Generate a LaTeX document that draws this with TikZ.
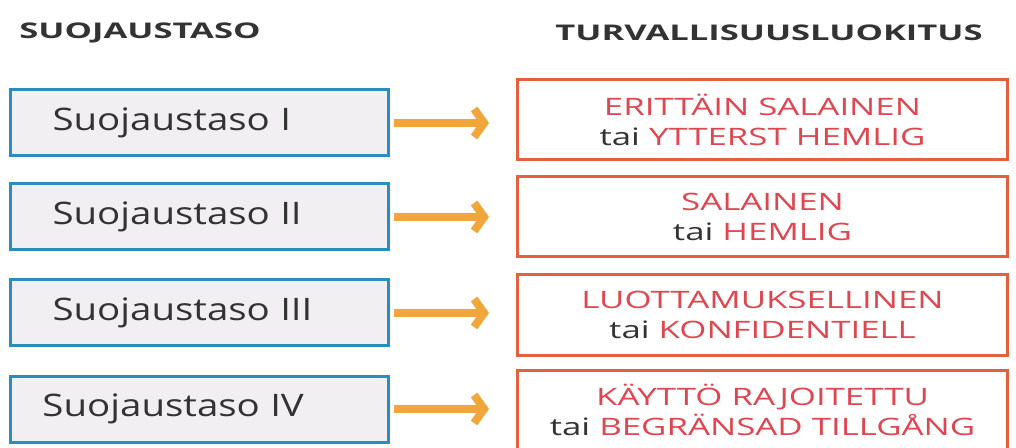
\documentclass[tikz,border=0pt]{standalone}
\usepackage{fontspec}
\setmainfont{Open Sans}
\newfontfamily\otsikkofont[FakeStretch=1.6]{Open Sans}
\newfontfamily\tasofont[FakeStretch=1.24]{Open Sans}
\newfontfamily\luokkafont[FakeStretch=1.45]{Open Sans}
\usepackage{xcolor}
\usepackage{tikz}
\usetikzlibrary{arrows.meta,positioning}

\definecolor{tasoblue}{HTML}{2B8DBF}
\definecolor{tasofill}{HTML}{F1EFF2}
\definecolor{luokkared}{HTML}{E5603F}
\definecolor{luokkatext}{HTML}{DE4650}
\definecolor{tumma}{HTML}{333333}
\definecolor{nuoli}{HTML}{F0A63A}

\tikzset{
  otsikko/.style={font=\otsikkofont\fontsize{10.8}{12}\selectfont\bfseries, text=tumma},
  tasobox/.style={draw=tasoblue, fill=tasofill, line width=1.5pt,
                  text width=189pt, minimum height=33pt, inner xsep=0pt,
                  inner ysep=0pt, align=left,
                  font=\tasofont\fontsize{15.5}{18}\selectfont, text=tumma},
  luokkabox/.style={draw=luokkared, fill=white, line width=1.5pt,
                    minimum width=245pt, minimum height=40pt, inner sep=0pt,
                    align=center, font=\luokkafont\fontsize{12}{15}\selectfont,
                    text=luokkatext},
  nuolet/.style={draw=nuoli, line width=4pt,
                 -{Straight Barb[length=5pt,width=14pt]},
                 shorten <=2pt, shorten >=13.5pt}
}
\newcommand{\tai}{\textcolor{tumma}{tai}}

\begin{document}
\begin{tikzpicture}[x=0.5pt, y=-0.5pt]
\useasboundingbox (0,0) rectangle (1016,448);

\node[otsikko] (otsL) at (140,33) {SUOJAUSTASO};
\node[otsikko] (otsR) at (769,33) {TURVALLISUUSLUOKITUS};

% suojaustasot
\node[tasobox] (t1) at (199.5,123) {\hspace*{21pt}Suojaustaso I};
\node[tasobox] (t2) at (199.5,217) {\hspace*{21pt}Suojaustaso II};
\node[tasobox] (t3) at (199.5,313) {\hspace*{21pt}Suojaustaso III};
\node[tasobox] (t4) at (199.5,409) {\hspace*{16pt}Suojaustaso IV};

% turvallisuusluokat
\node[luokkabox] (l1) at (762.5,120) {ERITTÄIN SALAINEN\\\tai{} YTTERST HEMLIG};
\node[luokkabox] (l2) at (762.5,217) {SALAINEN\\\tai{} HEMLIG};
\node[luokkabox] (l3) at (762.5,315) {LUOTTAMUKSELLINEN\\\tai{} KONFIDENTIELL};
\node[luokkabox] (l4) at (762.5,410) {KÄYTTÖ RAJOITETTU\\\tai{} BEGRÄNSAD TILLGÅNG};

\foreach \i in {1,...,4}
  \draw[nuolet] (t\i.east) -- (t\i.east -| l\i.west);
\end{tikzpicture}
\end{document}
